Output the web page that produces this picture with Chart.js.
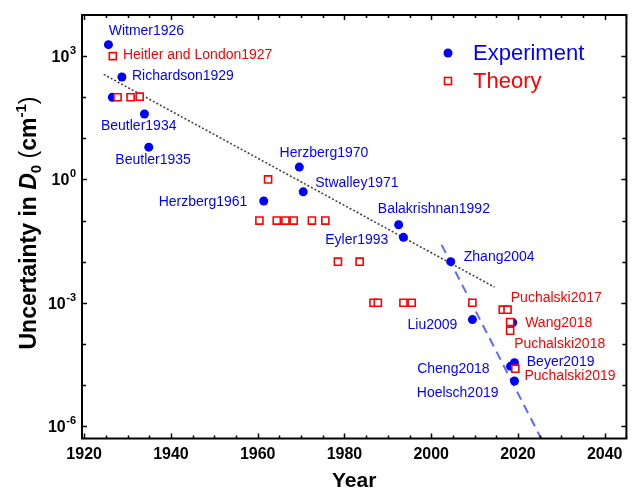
<!DOCTYPE html>
<html>
<head>
<meta charset="utf-8">
<script src="https://cdn.jsdelivr.net/npm/chart.js@4.4.1/dist/chart.umd.min.js"></script>
<style>
  html, body { margin: 0; padding: 0; background: #fff; }
</style>
</head>
<body>
<canvas id="chartCanvas" width="633" height="494"></canvas>
<script>
// Experiment (blue filled circles)
const expYears  = [1925.6, 1926.5, 1928.7, 1933.9, 1934.9, 1961.4, 1969.6, 1970.5, 1992.5, 1993.6, 2004.5, 2009.5, 2018.8, 2018.3, 2019.2, 2019.2];
const expValues = [1900, 100, 310, 39, 6.1, 0.30, 2.0, 0.50, 0.079, 0.039, 0.010, 3.9e-4, 3.3e-4, 2.85e-5, 3.5e-5, 1.25e-5];

// Theory (red open squares)
const theoryYears  = [1926.6, 1927.7, 1930.7, 1932.8, 1962.4, 1960.4, 1964.4, 1966.4, 1968.3, 1972.5, 1975.6, 1978.5, 1983.5, 1986.7, 1987.7, 1993.6, 1995.5, 2009.5, 2016.5, 2017.6, 2018.2, 2018.2, 2019.4];
const theoryValues = [1000, 100, 100, 103, 1.0, 0.1, 0.1, 0.1, 0.1, 0.1, 0.1, 0.01, 0.01, 1e-3, 1e-3, 1e-3, 1e-3, 1e-3, 6.8e-4, 6.8e-4, 3.4e-4, 2.1e-4, 2.5e-5];

// guide lines
const trendYears  = [1924.5, 2014.6];
const trendValues = [360, 0.0024];
const fitYears  = [2002.4, 2025.3];
const fitValues = [0.0256, 5.1e-7];

// axes
const xTickYears = [1920, 1940, 1960, 1980, 2000, 2020, 2040];
const yLabelPowers = [3, 0, -3, -6];

// point labels: text, colour, anchor year, anchor value (left edge, middle)
const noteTexts  = ['Witmer1926', 'Heitler and London1927', 'Richardson1929', 'Beutler1934', 'Beutler1935',
                    'Herzberg1970', 'Stwalley1971', 'Herzberg1961', 'Balakrishnan1992', 'Eyler1993',
                    'Zhang2004', 'Liu2009', 'Puchalski2017', 'Wang2018', 'Puchalski2018',
                    'Beyer2019', 'Cheng2018', 'Puchalski2019', 'Hoelsch2019'];
const noteColors = ['b', 'r', 'b', 'b', 'b', 'b', 'b', 'b', 'b', 'b', 'b', 'b', 'r', 'r', 'r', 'b', 'b', 'r', 'b'];
const noteYears  = [1925.65, 1928.94, 1931.01, 1923.87, 1927.19, 1965.05, 1973.27, 1937.17, 1987.7, 1975.58,
                    2007.51, 1994.54, 2018.34, 2021.66, 2019.12, 2022.03, 1996.77, 2021.5, 1996.68];
const noteValues = [4045, 1081, 327, 19.7, 2.9, 4.43, 0.83, 0.287, 0.188, 0.0333,
                    0.01285, 2.82e-4, 1.3e-3, 3.22e-4, 9.6e-5, 3.65e-5, 2.37e-5, 1.6e-5, 6.45e-6];

const BLUE = '#0000ff';
const RED = '#ff0000';
const FONT = '"Liberation Sans", Arial, Helvetica, sans-serif';

const toPoints = (xs, ys) => xs.map((x, i) => ({ x: x, y: ys[i] }));

const decor = {
    id: 'decor',
    afterDraw(chart) {
        const { ctx, chartArea: a, scales: { x, y } } = chart;
        ctx.save();

        // inward ticks on all four sides
        ctx.strokeStyle = '#000';
        ctx.lineWidth = 1.5;
        ctx.beginPath();
        for (let yr = 1920; yr <= 2045; yr += 5) {
            const px = Math.round(x.getPixelForValue(yr)) + 0.5;
            const len = yr % 20 === 0 ? 5 : 3;
            ctx.moveTo(px, a.bottom); ctx.lineTo(px, a.bottom - len);
            ctx.moveTo(px, a.top); ctx.lineTo(px, a.top + len);
        }
        for (let p = -6; p <= 3; p++) {
            const py = Math.round(y.getPixelForValue(Math.pow(10, p))) + 0.5;
            const len = p % 3 === 0 ? 5 : 4;
            ctx.moveTo(a.left, py); ctx.lineTo(a.left + len, py);
            ctx.moveTo(a.right, py); ctx.lineTo(a.right - len, py);
        }
        ctx.stroke();

        // frame
        ctx.lineWidth = 2;
        ctx.strokeRect(a.left, a.top, a.right - a.left, a.bottom - a.top);

        // y tick labels 10^n
        ctx.fillStyle = '#000';
        ctx.textBaseline = 'alphabetic';
        yLabelPowers.forEach(p => {
            const py = y.getPixelForValue(Math.pow(10, p));
            ctx.font = 'bold 11px ' + FONT;
            ctx.textAlign = 'right';
            const ex = String(p);
            const exW = ctx.measureText(ex).width;
            ctx.fillText(ex, 76, py - 2);
            ctx.font = 'bold 16px ' + FONT;
            ctx.fillText('10', 76 - exW - 0.5, py + 6);
        });

        // y axis title with italic D, subscript and superscript
        const parts = [
            { t: 'Uncertainty in ', f: 'bold 23px ', dy: 0 },
            { t: 'D', f: 'italic bold 23px ', dy: 0 },
            { t: '0', f: 'bold 15px ', dy: 5 },
            { t: ' ', f: 'bold 23px ', dy: 0 },
            { t: '(', f: '23px ', dy: 0 },
            { t: 'cm', f: 'bold 23px ', dy: 0 },
            { t: '-1', f: 'bold 15px ', dy: -10 },
            { t: ')', f: '23px ', dy: 0 }
        ];
        let total = 0;
        parts.forEach(s => { ctx.font = s.f + FONT; s.w = ctx.measureText(s.t).width; total += s.w; });
        ctx.translate(36, 223);
        ctx.rotate(-Math.PI / 2);
        ctx.textAlign = 'left';
        let cx = -total / 2;
        parts.forEach(s => {
            ctx.font = s.f + FONT;
            ctx.fillText(s.t, cx, s.dy);
            cx += s.w;
        });
        ctx.setTransform(1, 0, 0, 1, 0, 0);

        // legend
        ctx.fillStyle = BLUE;
        ctx.beginPath();
        ctx.arc(448, 53, 4.5, 0, Math.PI * 2);
        ctx.fill();
        ctx.strokeStyle = RED;
        ctx.lineWidth = 1.6;
        ctx.fillStyle = '#fff';
        ctx.fillRect(444.5, 77.5, 7, 7);
        ctx.strokeRect(444.5, 77.5, 7, 7);
        ctx.font = '22px ' + FONT;
        ctx.textBaseline = 'middle';
        ctx.fillStyle = BLUE;
        ctx.fillText('Experiment', 473, 54);
        ctx.fillStyle = RED;
        ctx.fillText('Theory', 473, 82);

        // point labels
        ctx.font = '14px ' + FONT;
        noteTexts.forEach((t, i) => {
            ctx.fillStyle = noteColors[i] === 'r' ? RED : BLUE;
            ctx.fillText(t, x.getPixelForValue(noteYears[i]), y.getPixelForValue(noteValues[i]));
        });

        ctx.restore();
    }
};

new Chart(document.getElementById('chartCanvas').getContext('2d'), {
    type: 'scatter',
    data: {
        datasets: [
            {
                label: 'Theory',
                data: toPoints(theoryYears, theoryValues),
                pointStyle: 'rect',
                pointRadius: 5,
                borderColor: RED,
                backgroundColor: '#fff',
                borderWidth: 1.6,
                order: 1
            },
            {
                label: 'Experiment',
                data: toPoints(expYears, expValues),
                pointStyle: 'circle',
                pointRadius: 4.5,
                borderWidth: 0,
                borderColor: BLUE,
                backgroundColor: BLUE,
                order: 2
            },
            {
                label: 'trend',
                data: toPoints(trendYears, trendValues),
                showLine: true,
                pointRadius: 0,
                borderColor: '#444',
                borderWidth: 1.6,
                borderDash: [2, 2],
                order: 3
            },
            {
                label: 'fit',
                data: toPoints(fitYears, fitValues),
                showLine: true,
                pointRadius: 0,
                borderColor: 'rgba(60,80,255,0.85)',
                borderWidth: 2,
                borderDash: [9, 6],
                order: 3
            }
        ]
    },
    options: {
        responsive: false,
        animation: false,
        events: [],
        devicePixelRatio: 1,
        layout: { padding: { left: 0, top: 15, right: 4, bottom: 0 } },
        plugins: { legend: { display: false }, tooltip: { enabled: false } },
        scales: {
            x: {
                type: 'linear',
                min: 1919.5,
                max: 2045,
                grid: { display: false, drawTicks: false },
                border: { display: false },
                afterBuildTicks: s => { s.ticks = xTickYears.map(v => ({ value: v })); },
                afterFit: s => { s.height = 55.5; },
                ticks: {
                    color: '#000',
                    padding: 6,
                    maxRotation: 0,
                    autoSkip: false,
                    font: { family: FONT, size: 16, weight: 'bold' },
                    callback: v => String(v)
                },
                title: {
                    display: true,
                    text: 'Year',
                    color: '#000',
                    font: { family: FONT, size: 21, weight: 'bold' },
                    padding: { top: 0, bottom: 0 }
                }
            },
            y: {
                type: 'logarithmic',
                min: 5e-7,
                max: 1e4,
                grid: { display: false, drawTicks: false },
                border: { display: false },
                ticks: { display: false },
                afterFit: s => { s.width = 82; }
            }
        }
    },
    plugins: [decor]
});
</script>
</body>
</html>
